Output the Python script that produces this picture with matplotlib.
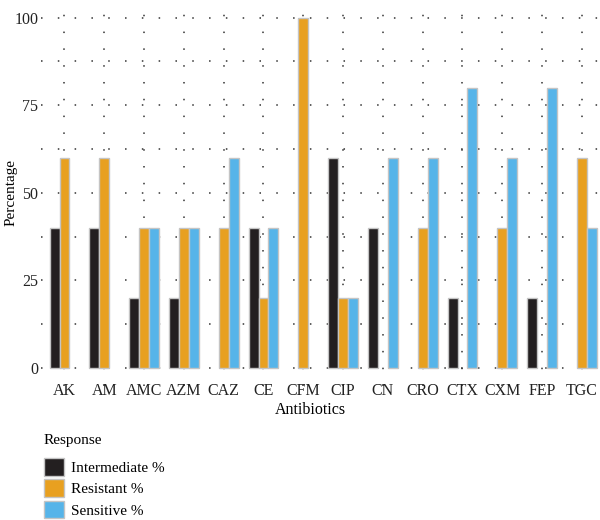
import matplotlib
matplotlib.use("Agg")
import matplotlib.pyplot as plt
from matplotlib.patches import Patch
import numpy as np

antibiotics = ["AK", "AM", "AMC", "AZM", "CAZ", "CE", "CFM", "CIP",
               "CN", "CRO", "CTX", "CXM", "FEP", "TGC"]
# None = no bar for that response
intermediate = [40, 40, 20, 20, None, 40, None, 60, 40, None, 20, None, 20, None]
resistant = [60, 60, 40, 40, 40, 20, 100, 20, None, 40, None, 40, None, 60]
sensitive = [None, None, 40, 40, 60, 40, None, 20, 60, 60, 80, 60, 80, 40]

series = [("Intermediate %", intermediate, "#231F20"),
          ("Resistant %", resistant, "#E8A020"),
          ("Sensitive %", sensitive, "#56B4E9")]

plt.rcParams["font.family"] = "Liberation Serif"
plt.rcParams["font.size"] = 10.5

fig = plt.figure(figsize=(6, 5.2), dpi=100)
ax = fig.add_axes([41 / 600, 1 - 385.5 / 520, 1 - 41 / 600, 385.5 / 520])

x = np.arange(len(antibiotics))
w = 0.25
for k, (name, vals, col) in enumerate(series):
    for i, v in enumerate(vals):
        if v is None:
            continue
        ax.bar(x[i] + (k - 1) * w, v, width=w, color=col,
               edgecolor="#C4C4C4", linewidth=1, zorder=3)

ax.set_xlim(-0.59, 13.455)
ax.set_ylim(-5, 105)
ax.set_xticks(x)
ax.set_xticklabels(antibiotics)
ax.set_yticks([0, 25, 50, 75, 100])
ax.set_yticks([12.5, 37.5, 62.5, 87.5], minor=True)
ax.tick_params(axis="both", which="both", length=0, colors="#222222", labelsize=11.5)
ax.tick_params(axis="x", pad=-2)
ax.tick_params(axis="y", pad=2)
for s in ax.spines.values():
    s.set_visible(False)

dots = (0, (1, 10))
ax.grid(True, which="major", axis="both", color="#333333", linestyle=dots, linewidth=1.1, zorder=0)
ax.grid(True, which="minor", axis="y", color="#333333", linestyle=dots, linewidth=1.1, zorder=0)

ax.set_xlabel("Antibiotics", fontsize=11.5)
ax.xaxis.set_label_coords(0.4825, -0.042)
ax.set_ylabel("Percentage", fontsize=11)
ax.yaxis.set_label_coords(-0.042, 0.5)

handles = [Patch(facecolor=c, edgecolor="#C4C4C4", linewidth=1, label=n) for n, _, c in series]
leg = fig.legend(handles=handles, title="Response", loc="upper left",
                 bbox_to_anchor=(30 / 600, 1 - 420 / 520), frameon=False,
                 handlelength=1.3, handleheight=1.4, labelspacing=0.25,
                 handletextpad=0.5, alignment="left", fontsize=11,
                 title_fontsize=11)
leg._legend_box.sep = 8

fig.savefig("out.png", dpi=100)
